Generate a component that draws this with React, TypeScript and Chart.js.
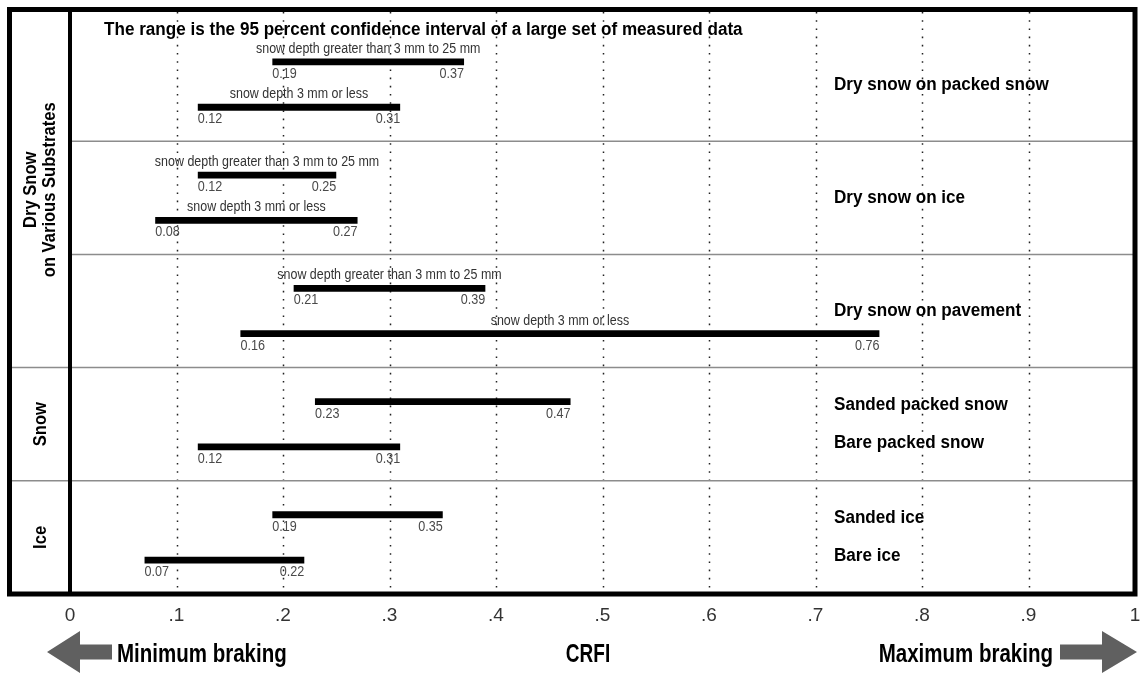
import React, { useEffect, useRef } from 'react';
import { Chart, registerables } from 'chart.js';

Chart.register(...registerables);

// Panels (one category each), two range bars per panel
const panelNames = ['Dry snow on packed snow', 'Dry snow on ice', 'Dry snow on pavement', 'Snow', 'Ice'];
const upperLow = [0.19, 0.12, 0.21, 0.23, 0.19];
const upperHigh = [0.37, 0.25, 0.39, 0.47, 0.35];
const lowerLow = [0.12, 0.08, 0.16, 0.12, 0.07];
const lowerHigh = [0.31, 0.27, 0.76, 0.31, 0.22];

// Notes written above the bars
const upperNotes = [
  'snow depth greater than 3 mm to 25 mm',
  'snow depth greater than 3 mm to 25 mm',
  'snow depth greater than 3 mm to 25 mm',
  '',
  '',
];
const lowerNotes = ['snow depth 3 mm or less', 'snow depth 3 mm or less', 'snow depth 3 mm or less', '', ''];

// Surface names on the right side
const panelLabels = ['Dry snow on packed snow', 'Dry snow on ice', 'Dry snow on pavement', '', ''];
const upperLabels = ['', '', '', 'Sanded packed snow', 'Sanded ice'];
const lowerLabels = ['', '', '', 'Bare packed snow', 'Bare ice'];

// Left-hand group column
const groupLabels = [['Dry Snow', 'on Various Substrates'], ['Snow'], ['Ice']];
const groupSizes = [3, 1, 1];

const xTickLabels = ['0', '.1', '.2', '.3', '.4', '.5', '.6', '.7', '.8', '.9', '1'];
const titleText = 'The range is the 95 percent confidence interval of a large set of measured data';
const axisTitle = 'CRFI';
const minLabel = 'Minimum braking';
const maxLabel = 'Maximum braking';

const FONT = '"Liberation Sans", Arial, Helvetica, sans-serif';

const fmt = (v: number) => v.toFixed(2);

// Draw text with a horizontal squeeze (narrow face look)
function drawText(ctx: CanvasRenderingContext2D, text: string, x: number, y: number, align: CanvasTextAlign, sx: number) {
  ctx.save();
  ctx.translate(x, y);
  ctx.scale(sx, 1);
  ctx.textAlign = align;
  ctx.fillText(text, 0, 0);
  ctx.restore();
}

const decorPlugin = {
  id: 'crfiDecor',
  beforeDatasetsDraw(chart: any) {
    const { ctx, chartArea, scales } = chart;
    const xs = scales.x;
    const ys = scales.y;
    const frameTop = 12;
    const frameLeft = 12;
    ctx.save();
    // dotted vertical grid
    ctx.strokeStyle = '#222';
    ctx.lineWidth = 1.5;
    ctx.setLineDash([1.6, 6.6]);
    xs.ticks.forEach((t: any) => {
      if (t.value <= 0 || t.value >= 1) return;
      const px = Math.round(xs.getPixelForValue(t.value)) + 0.5;
      ctx.beginPath();
      ctx.moveTo(px, frameTop);
      ctx.lineTo(px, chartArea.bottom);
      ctx.stroke();
    });
    ctx.setLineDash([]);
    // panel separators
    ctx.strokeStyle = '#8c8c8c';
    ctx.lineWidth = 1.5;
    let groupEnd = 0;
    const groupBoundaries = new Set<number>();
    groupSizes.forEach((n) => {
      groupEnd += n;
      groupBoundaries.add(groupEnd - 1);
    });
    for (let i = 0; i < panelNames.length - 1; i++) {
      const y = (ys.getPixelForValue(i) + ys.getPixelForValue(i + 1)) / 2;
      const x0 = groupBoundaries.has(i) ? frameLeft : chartArea.left;
      ctx.beginPath();
      ctx.moveTo(x0, y);
      ctx.lineTo(chartArea.right, y);
      ctx.stroke();
    }
    ctx.restore();
  },
  afterDatasetsDraw(chart: any) {
    const { ctx, scales } = chart;
    const xs = scales.x;
    ctx.save();
    const sets = [
      { low: upperLow, high: upperHigh, notes: upperNotes },
      { low: lowerLow, high: lowerHigh, notes: lowerNotes },
    ];
    ctx.textBaseline = 'alphabetic';
    sets.forEach((s, di) => {
      const meta = chart.getDatasetMeta(di);
      meta.data.forEach((el: any, i: number) => {
        const y = el.y;
        const x0 = xs.getPixelForValue(s.low[i]);
        const x1 = xs.getPixelForValue(s.high[i]);
        ctx.fillStyle = '#4a4a4a';
        ctx.font = `14px ${FONT}`;
        drawText(ctx, fmt(s.low[i]), x0, y + 16, 'left', 0.9);
        drawText(ctx, fmt(s.high[i]), x1, y + 16, 'right', 0.9);
        if (s.notes[i]) {
          ctx.fillStyle = '#333';
          drawText(ctx, s.notes[i], (x0 + x1) / 2, y - 9, 'center', 0.89);
        }
      });
    });
    ctx.restore();
  },
  afterDraw(chart: any) {
    const { ctx, chartArea, scales } = chart;
    const ys = scales.y;
    const frameTop = 9.5;
    const frameLeft = 9.5;
    ctx.save();
    // frame
    ctx.strokeStyle = '#000';
    ctx.lineWidth = 5;
    ctx.strokeRect(frameLeft, frameTop, chartArea.right - frameLeft, chartArea.bottom - frameTop);
    ctx.lineWidth = 4;
    ctx.beginPath();
    ctx.moveTo(chartArea.left, frameTop);
    ctx.lineTo(chartArea.left, chartArea.bottom);
    ctx.stroke();

    // title
    ctx.fillStyle = '#000';
    ctx.font = `bold 18px ${FONT}`;
    ctx.textBaseline = 'alphabetic';
    drawText(ctx, titleText, 104, 35, 'left', 0.95);

    // right-side surface names
    const labelX = 834;
    ctx.font = `bold 18px ${FONT}`;
    ctx.textBaseline = 'middle';
    panelNames.forEach((_, i) => {
      const cy = ys.getPixelForValue(i);
      if (panelLabels[i]) drawText(ctx, panelLabels[i], labelX, cy, 'left', 0.95);
      if (upperLabels[i]) drawText(ctx, upperLabels[i], labelX, cy - 19, 'left', 0.95);
      if (lowerLabels[i]) drawText(ctx, lowerLabels[i], labelX, cy + 19, 'left', 0.95);
    });

    // group column labels (rotated)
    ctx.font = `bold 18px ${FONT}`;
    let start = 0;
    groupLabels.forEach((lines, g) => {
      const end = start + groupSizes[g] - 1;
      const topEdge = start === 0 ? 12 : (ys.getPixelForValue(start - 1) + ys.getPixelForValue(start)) / 2;
      const botEdge =
        end === panelNames.length - 1 ? chartArea.bottom : (ys.getPixelForValue(end) + ys.getPixelForValue(end + 1)) / 2;
      const cy = (topEdge + botEdge) / 2;
      const cx = (12 + chartArea.left) / 2;
      const lh = 19;
      ctx.save();
      ctx.translate(cx, cy);
      ctx.rotate(-Math.PI / 2);
      lines.forEach((ln, k) => {
        drawText(ctx, ln, 0, (k - (lines.length - 1) / 2) * lh, 'center', 0.92);
      });
      ctx.restore();
      start += groupSizes[g];
    });

    // bottom arrows and captions
    const ay = 652;
    ctx.fillStyle = '#606060';
    ctx.beginPath();
    ctx.moveTo(47, ay);
    ctx.lineTo(80, ay - 21);
    ctx.lineTo(80, ay - 7.5);
    ctx.lineTo(112, ay - 7.5);
    ctx.lineTo(112, ay + 7.5);
    ctx.lineTo(80, ay + 7.5);
    ctx.lineTo(80, ay + 21);
    ctx.closePath();
    ctx.fill();
    ctx.beginPath();
    ctx.moveTo(1137, ay);
    ctx.lineTo(1102, ay - 21);
    ctx.lineTo(1102, ay - 7.5);
    ctx.lineTo(1060, ay - 7.5);
    ctx.lineTo(1060, ay + 7.5);
    ctx.lineTo(1102, ay + 7.5);
    ctx.lineTo(1102, ay + 21);
    ctx.closePath();
    ctx.fill();

    ctx.fillStyle = '#000';
    ctx.font = `bold 25px ${FONT}`;
    ctx.textBaseline = 'alphabetic';
    drawText(ctx, minLabel, 117, 662, 'left', 0.82);
    drawText(ctx, maxLabel, 1053, 662, 'right', 0.82);
    drawText(ctx, axisTitle, 588, 662, 'center', 0.76);
    ctx.restore();
  },
};

export default function App() {
  const canvasRef = useRef<HTMLCanvasElement | null>(null);

  useEffect(() => {
    if (!canvasRef.current) return;
    const chart = new Chart(canvasRef.current, {
      type: 'bar',
      data: {
        labels: panelNames,
        datasets: [
          {
            label: 'upper',
            data: upperLow.map((v, i) => [v, upperHigh[i]]),
            backgroundColor: '#000',
            categoryPercentage: 0.8,
            barPercentage: 0.15,
          },
          {
            label: 'lower',
            data: lowerLow.map((v, i) => [v, lowerHigh[i]]),
            backgroundColor: '#000',
            categoryPercentage: 0.8,
            barPercentage: 0.15,
          },
        ],
      },
      options: {
        indexAxis: 'y',
        responsive: false,
        animation: false,
        layout: { padding: { left: 70, right: 9, top: 28, bottom: 46 } },
        plugins: {
          legend: { display: false },
          tooltip: { enabled: false },
          title: { display: false },
        },
        scales: {
          x: {
            type: 'linear',
            min: 0,
            max: 1,
            grid: { display: false, drawTicks: false },
            border: { display: false },
            afterFit: (scale: any) => {
              scale.paddingLeft = 0;
              scale.paddingRight = 0;
              scale.height = 33;
            },
            ticks: {
              stepSize: 0.1,
              autoSkip: false,
              maxRotation: 0,
              padding: 10,
              color: '#333',
              font: { family: FONT, size: 19 },
              callback: (_v: any, i: number) => xTickLabels[i],
            },
          },
          y: {
            type: 'category',
            display: false,
            grid: { display: false },
          },
        },
      },
      plugins: [decorPlugin],
    });
    return () => chart.destroy();
  }, []);

  return (
    <div style={{ position: 'absolute', left: 0, top: 0, width: 1144, height: 673, background: '#fff' }}>
      <canvas ref={canvasRef} width={1144} height={673} style={{ display: 'block' }} />
    </div>
  );
}
